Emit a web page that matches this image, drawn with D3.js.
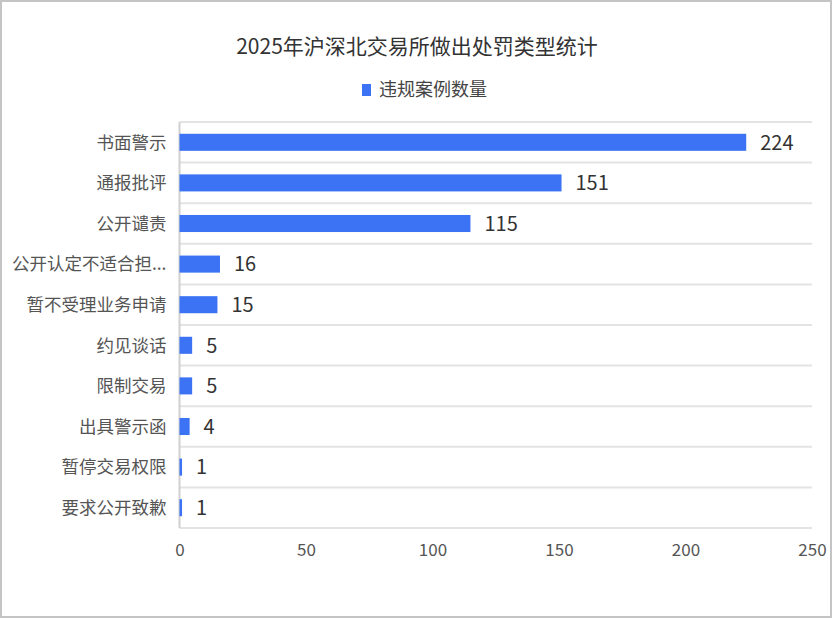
<!DOCTYPE html>
<html>
<head>
<meta charset="utf-8">
<script src="https://cdn.jsdelivr.net/npm/d3@7"></script>
<style>
  body { margin: 0; background: #fff; }
  svg { display: block; font-family: "Noto Sans CJK SC", "Noto Sans", sans-serif; }
</style>
</head>
<body>
<div id="chart"></div>
<script>
// Data
const categories = ["书面警示", "通报批评", "公开谴责", "公开认定不适合担任上市公司董事、监事、高级管理人员",
  "暂不受理业务申请", "约见谈话", "限制交易", "出具警示函", "暂停交易权限", "要求公开致歉"];
const values = [224, 151, 115, 16, 15, 5, 5, 4, 1, 1];
const xTicks = [0, 50, 100, 150, 200, 250];
const seriesName = "违规案例数量";
const title = "2025年沪深北交易所做出处罚类型统计";

const W = 832, H = 618;
const margin = { top: 122, right: 20, bottom: 90, left: 179.5 };
const width = 812 - margin.left;
const height = 528 - margin.top;
const barColor = "#3c73f5";

const svg = d3.select("#chart")
    .append("svg")
    .attr("width", W)
    .attr("height", H);

// outer frame
svg.append("rect")
    .attr("x", 1).attr("y", 1)
    .attr("width", W - 2).attr("height", H - 2)
    .attr("fill", "#fff")
    .attr("stroke", "#c4c4c4")
    .attr("stroke-width", 2);

svg.append("text")
    .attr("x", 417)
    .attr("y", 54)
    .attr("text-anchor", "middle")
    .attr("fill", "#333")
    .style("font-size", "21px")
    .text(title);

// legend
const legend = svg.append("g").attr("transform", "translate(362,84)");
legend.append("rect")
    .attr("width", 9).attr("height", 12)
    .attr("fill", barColor);
legend.append("text")
    .attr("x", 17).attr("y", 12)
    .attr("fill", "#444")
    .style("font-size", "18px")
    .text(seriesName);

const g = svg.append("g")
    .attr("transform", `translate(${margin.left},${margin.top})`);

const x = d3.scaleLinear()
    .domain([0, 250])
    .range([0, width]);

const y = d3.scaleBand()
    .domain(categories)
    .range([0, height])
    .paddingInner(0.58)
    .paddingOuter(0.29);

// row separators
const step = y.step();
g.selectAll(".sep")
    .data(d3.range(categories.length + 1))
    .enter()
    .append("line")
    .attr("x1", 0)
    .attr("x2", width)
    .attr("y1", i => i * step)
    .attr("y2", i => i * step)
    .attr("stroke", "#e3e3e3")
    .attr("stroke-width", 2);

g.append("line")
    .attr("x1", 0).attr("x2", 0)
    .attr("y1", 0).attr("y2", height)
    .attr("stroke", "#d0d0d0")
    .attr("stroke-width", 2);

g.selectAll(".bar")
    .data(values)
    .enter()
    .append("rect")
    .attr("x", 0)
    .attr("y", (d, i) => y(categories[i]))
    .attr("width", d => x(d))
    .attr("height", y.bandwidth())
    .attr("fill", barColor);

g.selectAll(".val")
    .data(values)
    .enter()
    .append("text")
    .attr("x", d => x(d) + 14)
    .attr("y", (d, i) => y(categories[i]) + y.bandwidth() / 2)
    .attr("dy", "0.36em")
    .attr("fill", "#333")
    .style("font-size", "20px")
    .text(d => d);

// category labels, long one truncated
const shortLabel = s => s.length > 8 ? s.slice(0, 8) + "..." : s;
g.selectAll(".cat")
    .data(categories)
    .enter()
    .append("text")
    .attr("x", -13)
    .attr("y", d => y(d) + y.bandwidth() / 2)
    .attr("dy", "0.36em")
    .attr("text-anchor", "end")
    .attr("fill", "#555")
    .style("font-size", "17.5px")
    .text(d => shortLabel(d));

const xAxis = d3.axisBottom(x).tickValues(xTicks).tickSize(0).tickPadding(16);
const ax = g.append("g")
    .attr("transform", `translate(0,${height})`)
    .call(xAxis);
ax.select(".domain").remove();
ax.selectAll("text")
    .attr("fill", "#555")
    .style("font-size", "17px")
    .style("font-family", "\"Noto Sans CJK SC\", sans-serif");
</script>
</body>
</html>
